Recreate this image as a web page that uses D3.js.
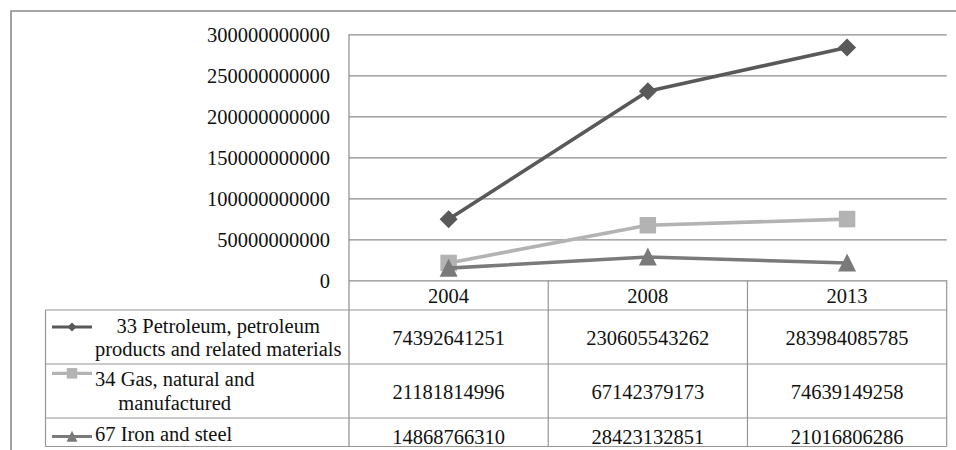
<!DOCTYPE html>
<html>
<head>
<meta charset="utf-8">
<script src="https://cdn.jsdelivr.net/npm/d3@7"></script>
<style>
  html, body { margin: 0; padding: 0; background: #fff; }
  svg { display: block; }
  svg text { font-family: "Liberation Serif", "Times New Roman", Tinos, serif; fill: #111; }
</style>
</head>
<body>
<div id="chart"></div>
<script>
// Export values by year for three commodity groups
const years = ["2004", "2008", "2013"];
const seriesNames = [
  "33 Petroleum, petroleum products and related materials",
  "34 Gas, natural and manufactured",
  "67 Iron and steel"
];
const petroleum = [74392641251, 230605543262, 283984085785];
const gas = [21181814996, 67142379173, 74639149258];
const ironSteel = [14868766310, 28423132851, 21016806286];
const yTicks = [0, 50000000000, 100000000000, 150000000000, 200000000000, 250000000000, 300000000000];

const W = 956, H = 450;
const fontSize = 20.5;
const serif = "'Liberation Serif', 'Times New Roman', Tinos, serif";

// Plot area and data table geometry
const plot = { left: 349, right: 946.7, top: 34.3, bottom: 280.3 };
const table = { left: 45.5, headerBottom: 310, rowBottoms: [364, 418, 446.5] };

// Series styling; the wrapped label lines are shown in the table's first column
const series = [
  { name: seriesNames[0], values: petroleum, color: "#595959", marker: "diamond",
    lines: ["33 Petroleum, petroleum", "products and related materials"] },
  { name: seriesNames[1], values: gas, color: "#b3b3b3", marker: "square",
    lines: ["34 Gas, natural and", "manufactured"] },
  { name: seriesNames[2], values: ironSteel, color: "#7a7a7a", marker: "triangle",
    lines: ["67 Iron and steel"] }
];

const svg = d3.select("#chart").append("svg")
  .attr("width", W).attr("height", H)
  .attr("font-family", serif);

// Outer frame (continues past the right and bottom edges)
svg.append("path")
  .attr("d", `M${W},11 H11 V${H}`)
  .attr("fill", "none").attr("stroke", "#8a8a8a").attr("stroke-width", 1.6);

const x = d3.scaleBand().domain(years).range([plot.left, plot.right]).padding(0);
const y = d3.scaleLinear().domain([0, 300000000000]).range([plot.bottom, plot.top]);

// Horizontal gridlines
svg.append("g")
  .attr("transform", `translate(${plot.left},0)`)
  .call(d3.axisLeft(y).tickValues(yTicks).tickSize(-(plot.right - plot.left)).tickFormat(""))
  .call(g => g.select(".domain").remove())
  .call(g => g.selectAll("line").attr("stroke", "#8c8c8c").attr("stroke-width", 1.2));

// Y axis tick labels
svg.append("g")
  .attr("transform", `translate(${plot.left - 19},0)`)
  .call(d3.axisLeft(y).tickValues(yTicks).tickSize(0).tickFormat(d3.format("d")))
  .call(g => g.attr("font-family", serif).attr("font-size", fontSize))
  .call(g => g.select(".domain").remove())
  .call(g => g.selectAll("text")
    .attr("x", 0).attr("dy", "0.34em")
    .attr("fill", "#111"));

// Left vertical axis line, running down through the header row
svg.append("line")
  .attr("x1", plot.left).attr("x2", plot.left)
  .attr("y1", plot.top).attr("y2", table.rowBottoms[2])
  .attr("stroke", "#8c8c8c").attr("stroke-width", 1.2);

// Data table grid
const tg = svg.append("g").attr("stroke", "#969696").attr("stroke-width", 1.2);
years.forEach(yr => {
  tg.append("line")
    .attr("x1", x(yr) + x.bandwidth()).attr("x2", x(yr) + x.bandwidth())
    .attr("y1", plot.bottom).attr("y2", table.rowBottoms[2]);
});
tg.append("line")
  .attr("x1", table.left).attr("x2", table.left)
  .attr("y1", table.headerBottom).attr("y2", table.rowBottoms[2]);
[table.headerBottom, ...table.rowBottoms].forEach(ry => {
  tg.append("line")
    .attr("x1", table.left).attr("x2", plot.right)
    .attr("y1", ry).attr("y2", ry);
});

// Header row: year labels
svg.append("g").selectAll("text").data(years).join("text")
  .attr("x", d => x(d) + x.bandwidth() / 2)
  .attr("y", 302.5)
  .attr("text-anchor", "middle")
  .attr("font-size", fontSize)
  .text(d => d);

// Marker shapes
function markerPath(type, size) {
  const s = size / 2;
  if (type === "diamond") return `M0,${-s}L${s},0L0,${s}L${-s},0Z`;
  if (type === "square") return `M${-s},${-s}H${s}V${s}H${-s}Z`;
  return `M0,${-s * 1.05}L${s},${s * 0.95}L${-s},${s * 0.95}Z`;
}
const markerSize = { diamond: 18, square: 16.5, triangle: 18 };

// Series lines and markers
const line = d3.line()
  .x((d, i) => x(years[i]) + x.bandwidth() / 2)
  .y(d => y(d));

series.forEach(s => {
  const g = svg.append("g");
  g.append("path")
    .datum(s.values)
    .attr("d", line)
    .attr("fill", "none")
    .attr("stroke", s.color)
    .attr("stroke-width", 3.6)
    .attr("stroke-linejoin", "round");
  g.selectAll("path.mk").data(s.values).join("path")
    .attr("class", "mk")
    .attr("transform", (d, i) => `translate(${x(years[i]) + x.bandwidth() / 2},${y(d)})`)
    .attr("d", markerPath(s.marker, markerSize[s.marker]))
    .attr("fill", s.color);
});

// Table body rows: legend key, series label and values
const rowTops = [table.headerBottom, table.rowBottoms[0], table.rowBottoms[1]];
const keyY = [327, 373.3, 436.5];
const lineBaselines = [[332.8, 356.3], [386, 409.5], [440.7]];
const keySize = { diamond: 9, square: 10.5, triangle: 11 };
const labelLeft = 95;   // label block starts just right of the legend key

series.forEach((s, r) => {
  const g = svg.append("g");
  g.append("line")
    .attr("x1", 52).attr("x2", 92)
    .attr("y1", keyY[r]).attr("y2", keyY[r])
    .attr("stroke", s.color).attr("stroke-width", 3.2);
  g.append("path")
    .attr("transform", `translate(72,${keyY[r]})`)
    .attr("d", markerPath(s.marker, keySize[s.marker]))
    .attr("fill", s.color);
  // wrapped label lines, each centred within the widest line's block
  const labels = g.selectAll("text.lbl").data(s.lines).join("text")
    .attr("class", "lbl")
    .attr("y", (d, k) => lineBaselines[r][k])
    .attr("text-anchor", "middle")
    .attr("font-size", fontSize)
    .text(d => d);
  const widest = d3.max(labels.nodes(), n => n.getComputedTextLength());
  labels.attr("x", labelLeft + widest / 2);
  // values
  const mid = (rowTops[r] + table.rowBottoms[r]) / 2;
  g.selectAll("text.v").data(s.values).join("text")
    .attr("class", "v")
    .attr("x", (d, i) => x(years[i]) + x.bandwidth() / 2)
    .attr("y", r === 2 ? 444 : mid + 7.7)
    .attr("text-anchor", "middle")
    .attr("font-size", fontSize)
    .text(d => d3.format("d")(d));
});
</script>
</body>
</html>
